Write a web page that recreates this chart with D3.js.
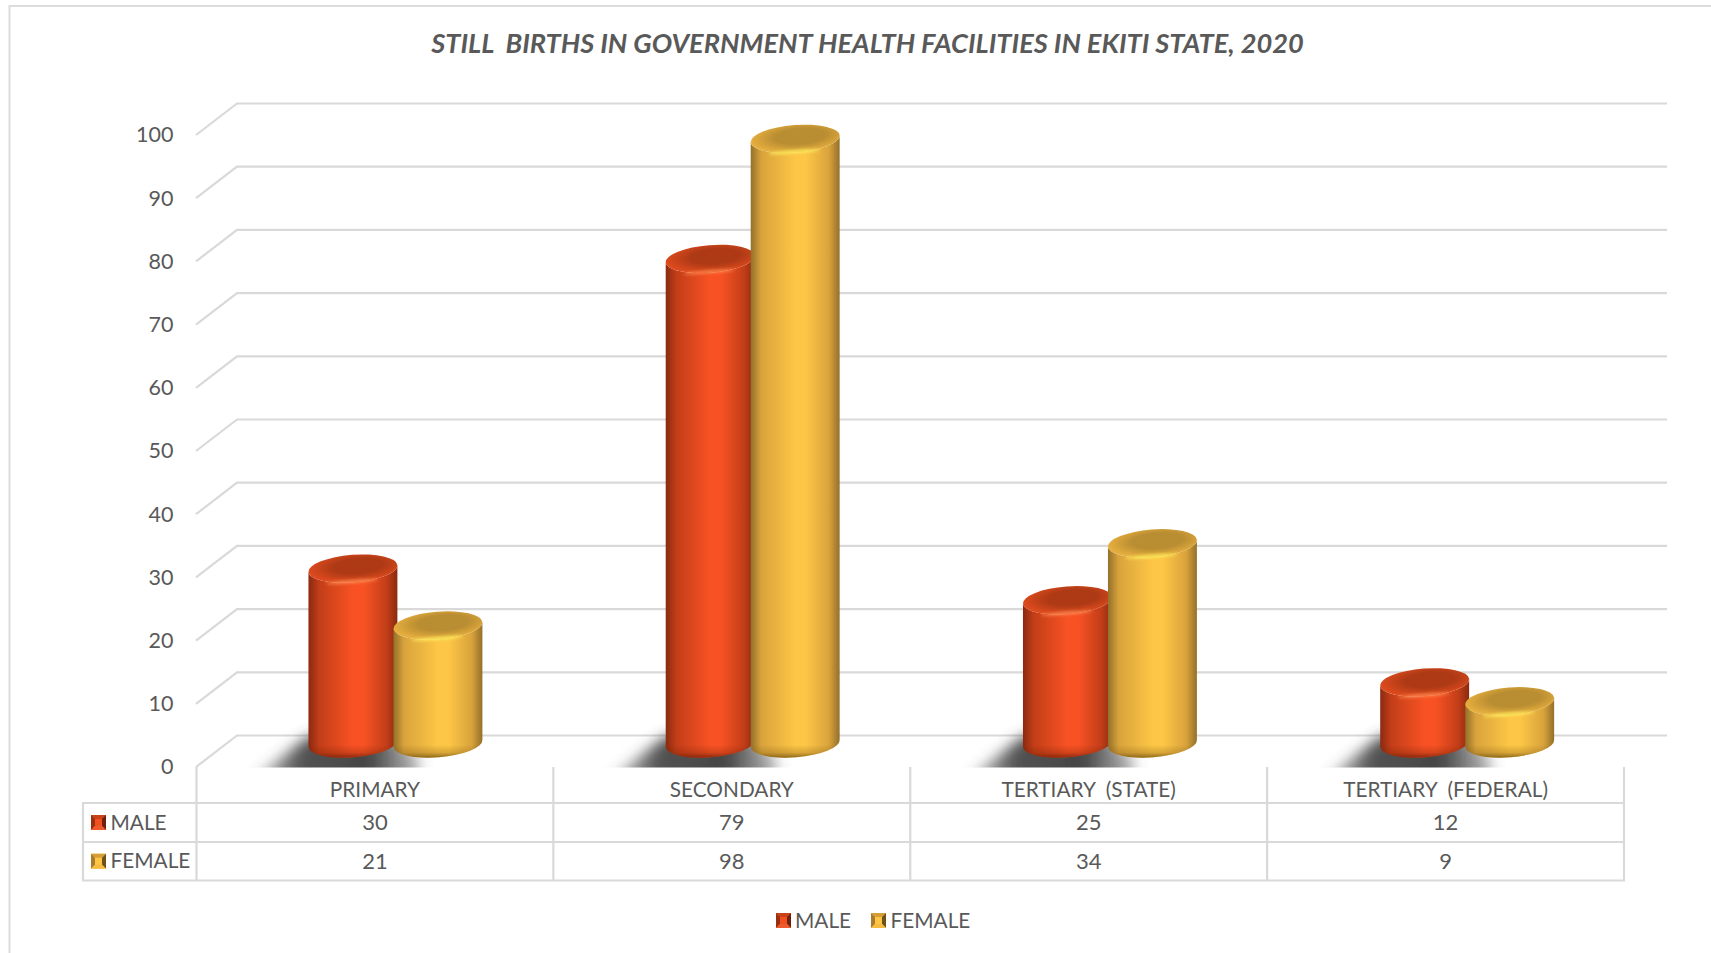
<!DOCTYPE html>
<html><head><meta charset="utf-8">
<script src="https://cdn.jsdelivr.net/npm/d3@7/dist/d3.min.js"></script>
<style>html,body{margin:0;padding:0;background:#fff;overflow:hidden}svg{display:block}
text{font-family:Lato,"Open Sans",sans-serif;fill:#595959;white-space:pre}</style>
</head><body><svg id="c" width="1711" height="953"></svg>
<script>
const titleText = "STILL  BIRTHS IN GOVERNMENT HEALTH FACILITIES IN EKITI STATE, 2020";
const categories = ["PRIMARY","SECONDARY","TERTIARY  (STATE)","TERTIARY  (FEDERAL)"];
const seriesNames = ["MALE","FEMALE"];
const maleValues = [30,79,25,12];
const femaleValues = [21,98,34,9];
const yTicks = [0,10,20,30,40,50,60,70,80,90,100];
const seriesValues = [maleValues,femaleValues];

const svg = d3.select("#c"), defs = svg.append("defs");
const GRID="#d9d9d9";
const y = d3.scaleLinear().domain([0,100]).range([767,135]);
const depthX=41, depthY=-31.5, topShift=-8.8, floorY=743.5;
const tableX = d3.scaleBand().domain(categories).range([196.5,1624]);
const barX = d3.scaleBand().domain(categories).range([216.8,1645.8]);
const seriesX = d3.scaleBand().domain(seriesNames).range([-85,85]);
const rowY = d3.scaleBand().domain(seriesNames).range([803,880.5]);
const palettes = {
 MALE:{edge:"#8a2a10",mid:"#c23e18",hi:"#f85224",face:"#ae3a15",rim:"#dd4a1e",glow:"#ff8a50",low:"#7a2208",sq:["#f0501f","#c8431a","#9a3012","#ee5a2c","#6e200a"]},
 FEMALE:{edge:"#93702a",mid:"#d9a33c",hi:"#fdc646",face:"#b98d32",rim:"#e6ae3e",glow:"#fff05a",low:"#7d5a14",sq:["#fcc644","#d69e36","#a87c2c","#f6bc42","#6e5218"]}
};
seriesNames.forEach(s=>{
 const p=palettes[s];
 const b=defs.append("linearGradient").attr("id","body"+s);
 [[0,p.edge],[.12,p.mid],[.5,p.hi],[.62,p.hi],[.88,p.mid],[1,p.edge]].forEach(d=>b.append("stop").attr("offset",d[0]).attr("stop-color",d[1]));
 const f=defs.append("radialGradient").attr("id","face"+s).attr("cx",.56).attr("cy",.42).attr("r",.56);
 [[0,p.face],[.5,p.face],[1,p.rim]].forEach(d=>f.append("stop").attr("offset",d[0]).attr("stop-color",d[1]));
 const l=defs.append("linearGradient").attr("id","low"+s).attr("x2",0).attr("y2",1);
 [[0,0],[.62,0],[.85,.3],[1,.85]].forEach(d=>l.append("stop").attr("offset",d[0]).attr("stop-color",p.low).attr("stop-opacity",d[1]));
});
defs.append("filter").attr("id","blurS").attr("x","-30%").attr("y","-60%").attr("width","160%").attr("height","220%").append("feGaussianBlur").attr("stdDeviation",7);
defs.append("filter").attr("id","blurG").attr("x","-30%").attr("y","-200%").attr("width","160%").attr("height","500%").append("feGaussianBlur").attr("stdDeviation",1.6);
const sg=defs.append("linearGradient").attr("id","shadowG");
[[0,"#4a4a4a",.15],[.3,"#4a4a4a",.95],[.7,"#454545",1],[1,"#4a4a4a",.35]].forEach(d=>sg.append("stop").attr("offset",d[0]).attr("stop-color",d[1]).attr("stop-opacity",d[2]));
defs.append("clipPath").attr("id","floorClip").append("rect").attr("x",0).attr("y",0).attr("width",1711).attr("height",767.5);

// frame
svg.append("path").attr("d","M9.5,953V6H1711").attr("fill","none").attr("stroke","#dcdcdc").attr("stroke-width",2);

// title
svg.append("text").attr("x",867.5).attr("y",53).attr("text-anchor","middle")
 .attr("font-size",27.2).attr("font-weight",700).attr("font-style","italic").text(titleText);

// gridlines
const grid=svg.append("g").attr("fill","none").attr("stroke",GRID).attr("stroke-width",2.2);
grid.selectAll("path").data(yTicks).join("path")
 .attr("d",d=>`M196,${y(d)}L${196+depthX},${y(d)+depthY}H1667`);

// y axis labels
const yAxis=d3.axisLeft(y).tickValues(yTicks).tickSize(0).tickPadding(0);
const ya=svg.append("g").attr("transform","translate(173.5,0)").call(yAxis);
ya.select(".domain").remove();
ya.selectAll("text").attr("font-size",21.5).style("font-family",'Lato,sans-serif').style("fill","#595959");

// table
const tbl=svg.append("g").attr("fill","none").attr("stroke",GRID).attr("stroke-width",2.2);
[...categories.map(c=>tableX(c)),1624].forEach(x=>tbl.append("line").attr("x1",x).attr("x2",x).attr("y1",767).attr("y2",880.5));
tbl.append("line").attr("x1",83).attr("x2",83).attr("y1",803).attr("y2",880.5);
[803,842,880.5].forEach(v=>tbl.append("line").attr("x1",82).attr("x2",1625).attr("y1",v).attr("y2",v));
svg.selectAll(".cat").data(categories).join("text").attr("class","cat")
 .attr("x",d=>tableX(d)+tableX.bandwidth()/2).attr("y",797).attr("text-anchor","middle").attr("font-size",20.8).text(d=>d);
seriesNames.forEach((s,i)=>{
 const ty=rowY(s)+27;
 svg.selectAll(".v"+s).data(seriesValues[i]).join("text").attr("class","v"+s)
  .attr("x",(d,j)=>tableX(categories[j])+tableX.bandwidth()/2).attr("y",ty).attr("text-anchor","middle").attr("font-size",22).text(d=>d);
 swatch(91,rowY(s)+12,s);
 svg.append("text").attr("x",110.5).attr("y",ty-.5).attr("font-size",20.8).text(s);
});
function swatch(x,yy,s){
 const c=palettes[s].sq,n=15,i=4,g=svg.append("g").attr("transform",`translate(${x},${yy})`);
 g.append("rect").attr("width",n).attr("height",n).attr("fill",c[0]);
 [[`0,0 ${n},0 ${n-i},${i} ${i},${i}`,c[1]],[`0,0 ${i},${i} ${i},${n-i} 0,${n}`,c[2]],
  [`${n},0 ${n},${n} ${n-i},${n-i} ${n-i},${i}`,c[4]],[`0,${n} ${n},${n} ${n-i},${n-i} ${i},${n-i}`,c[3]]]
  .forEach(d=>g.append("polygon").attr("points",d[0]).attr("fill",d[1]));
}

// shadows
const shadows=svg.append("g").attr("clip-path","url(#floorClip)");
categories.forEach(c=>{
 const m=barX(c)+barX.bandwidth()/2+seriesX("MALE")+seriesX.bandwidth()/2;
 shadows.append("path").attr("fill","url(#shadowG)").attr("filter","url(#blurS)")
  .attr("d",`M${m-104},782L${m-44},736H${m+40}L${m+68},760L${m+64},782Z`);
});

// cylinders
const rx=44.6, ry=13.8, deg=-4.5, th=deg*Math.PI/180, dx=rx*Math.cos(th), dy=rx*Math.sin(th);
seriesNames.forEach((s,i)=>{
 const p=palettes[s], g=svg.append("g").attr("class","series-"+s);
 categories.forEach((c,j)=>{
  const v=seriesValues[i][j];
  const cx=barX(c)+barX.bandwidth()/2+seriesX(s)+seriesX.bandwidth()/2;
  const ty=y(v)+topShift;
  const arc=(sweep,tx,yy)=>`A${rx},${ry} ${deg} 0 ${sweep} ${tx},${yy}`;
  g.append("path").attr("fill",`url(#body${s})`)
   .attr("d",`M${cx-dx},${ty-dy}L${cx-dx},${floorY-dy}${arc(0,cx+dx,floorY+dy)}L${cx+dx},${ty+dy}${arc(1,cx-dx,ty-dy)}Z`);
  g.append("path").attr("fill",`url(#low${s})`)
   .attr("d",`M${cx-dx},${floorY-dy-16}L${cx-dx},${floorY-dy}${arc(0,cx+dx,floorY+dy)}L${cx+dx},${floorY+dy-16}Z`);
  g.append("ellipse").attr("cx",cx).attr("cy",ty).attr("rx",rx).attr("ry",ry)
   .attr("transform",`rotate(${deg} ${cx} ${ty})`).attr("fill",`url(#face${s})`);
  g.append("ellipse").attr("cx",cx-2).attr("cy",ty+ry-1).attr("rx",26).attr("ry",1.4)
   .attr("transform",`rotate(${deg} ${cx} ${ty})`).attr("fill",p.glow).attr("filter","url(#blurG)");
 });
});

// legend
const legend=[{s:"MALE",sx:776,tx:795},{s:"FEMALE",sx:871,tx:890.5}];
legend.forEach(d=>{
 swatch(d.sx,913,d.s);
 svg.append("text").attr("x",d.tx).attr("y",928).attr("font-size",20.8).text(d.s);
});
</script></body></html>
